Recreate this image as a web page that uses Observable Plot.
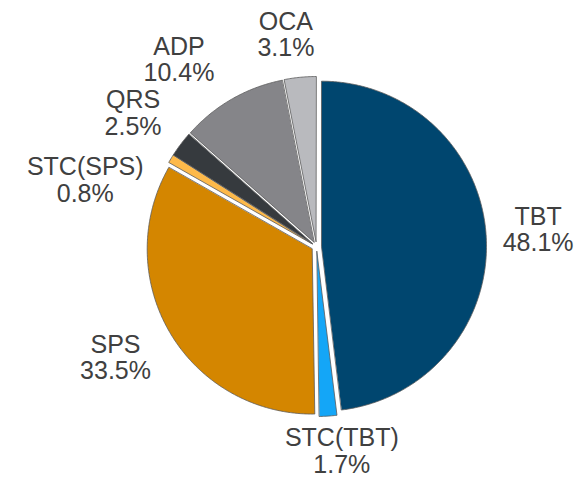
<!DOCTYPE html>
<html>
<head>
<meta charset="utf-8">
<script src="https://cdn.jsdelivr.net/npm/d3@7"></script>
<script src="https://cdn.jsdelivr.net/npm/@observablehq/plot@0.6"></script>
<style>
  html, body { margin: 0; padding: 0; background: #fff; }
</style>
</head>
<body>
<div id="chart"></div>
<script>
// ---- data ----
const categories = ["TBT", "STC(TBT)", "SPS", "STC(SPS)", "QRS", "ADP", "OCA"];
const shares = [48.1, 1.7, 33.5, 0.8, 2.5, 10.4, 3.1];
const colors = ["#00466f", "#14a6f7", "#d48600", "#fdb94a", "#363a3e", "#858589", "#b9babe"];

// ---- layout (not data) ----
const W = 588, H = 478;
const cx = 316, cy = 246, R = 165;          // pixel centre and radius
const explode = 5 / R;                       // explosion in radius units
const labelDist = 222 / R;
// label nudges (pixels) from the radial anchor, to mimic the reference placement
const labelNudge = {
  "TBT": [0, -3], "STC(TBT)": [10, -17], "SPS": [-10, -2], "STC(SPS)": [-41, 48],
  "QRS": [-6, 0], "ADP": [-27, 6], "OCA": [-9, 9]
};

const total = d3.sum(shares);
const slices = [];
const labels = [];
let acc = 0;
categories.forEach((c, i) => {
  const a0 = acc / total * 2 * Math.PI;
  acc += shares[i];
  const a1 = acc / total * 2 * Math.PI;
  const am = (a0 + a1) / 2;
  const ox = Math.sin(am) * explode, oy = Math.cos(am) * explode;
  slices.push({cat: c, x: ox, y: oy});
  const n = Math.max(2, Math.ceil((a1 - a0) / (Math.PI / 360)));
  for (let k = 0; k <= n; k++) {
    const a = a0 + (a1 - a0) * k / n;
    slices.push({cat: c, x: ox + Math.sin(a), y: oy + Math.cos(a)});
  }
  const [nx, ny] = labelNudge[c];
  labels.push({
    cat: c,
    text: `${c}\n${shares[i].toFixed(1)}%`,
    x: Math.sin(am) * labelDist + nx / R,
    y: Math.cos(am) * labelDist - ny / R
  });
});

const plot = Plot.plot({
  width: W, height: H,
  margin: 0,
  x: {domain: [-cx / R, (W - cx) / R], axis: null},
  y: {domain: [-(H - cy) / R, cy / R], axis: null},
  color: {domain: categories, range: colors},
  marks: [
    Plot.line(slices, {
      x: "x", y: "y", z: "cat", fill: "cat",
      stroke: "#5a5a5a", strokeWidth: 0.8, curve: "linear-closed"
    }),
    Plot.text(labels, {
      x: "x", y: "y", text: "text",
      fontSize: 25, lineHeight: 1.05, fill: "#404040",
      fontFamily: "Liberation Sans, Arial, sans-serif"
    })
  ]
});
document.getElementById("chart").appendChild(plot);
</script>
</body>
</html>
